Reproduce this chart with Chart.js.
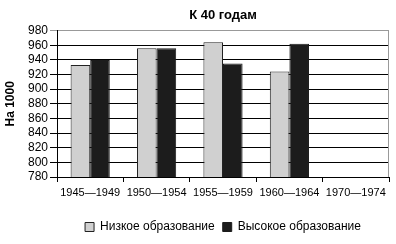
<!DOCTYPE html>
<html lang="ru">
<head>
<meta charset="utf-8" />
<title>К 40 годам</title>
<script src="https://cdn.jsdelivr.net/npm/chart.js"></script>
<style>
  body { margin: 0; background: #fff; }
  #wrap { width: 396px; height: 244px; }
</style>
</head>
<body>
<div id="wrap"><canvas id="c" width="396" height="244"></canvas></div>
<script>
const periods = ['1945—1949', '1950—1954', '1955—1959', '1960—1964', '1970—1974'];
const lowEdu  = [933, 956, 964, 924, null];
const highEdu = [940, 956, 935, 962, null];
const yMin = 780, yMax = 980, yStep = 20;

const font = '"Liberation Sans", Arial, sans-serif';

new Chart(document.getElementById('c'), {
  type: 'bar',
  data: {
    labels: periods,
    datasets: [
      { label: 'Низкое образование', data: lowEdu, backgroundColor: '#d0d0d0', borderColor: '#222', borderWidth: 1 },
      { label: 'Высокое образование', data: highEdu, backgroundColor: '#1c1c1c', borderColor: '#1c1c1c', borderWidth: 1 }
    ]
  },
  options: {
    responsive: false,
    animation: false,
    layout: { padding: { left: 0, right: 7, top: 1, bottom: 1 } },
    datasets: { bar: { categoryPercentage: 0.59, barPercentage: 1 } },
    scales: {
      x: {
        afterFit: s => { s.height = 36; },
        grid: { offset: true, drawOnChartArea: false, drawTicks: true, tickLength: 5, color: '#000' },
        border: { color: '#000' },
        ticks: { autoSkip: false, color: '#000', font: { family: font, size: 11 }, padding: 4, maxRotation: 0 }
      },
      y: {
        min: yMin, max: yMax,
        afterFit: s => { s.width = 57; },
        grid: { color: c => c.tick && c.tick.value === yMax ? '#999' : '#000', tickLength: 7 },
        border: { color: '#000' },
        ticks: { stepSize: yStep, autoSkip: false, color: '#000', font: { family: font, size: 12 }, padding: 2 },
        title: { display: true, text: 'На 1000', color: '#000', font: { family: font, size: 12, weight: 'bold' }, padding: { top: 3, bottom: 0 } }
      }
    },
    plugins: {
      title: { display: true, fullSize: false, text: 'К 40 годам', color: '#000', font: { family: font, size: 13, weight: 'bold' }, padding: { top: 7, bottom: 7 } },
      legend: {
        position: 'bottom', fullSize: false,
        labels: { color: '#000', font: { family: font, size: 12 }, boxWidth: 9, boxHeight: 9, padding: 8 }
      },
      tooltip: { enabled: false }
    }
  },
  plugins: [{
    id: 'frame',
    afterDraw(chart) {
      const a = chart.chartArea, ctx = chart.ctx;
      ctx.save();
      ctx.strokeStyle = '#999';
      ctx.lineWidth = 1;
      ctx.beginPath();
      ctx.moveTo(a.right - 0.5, a.top);
      ctx.lineTo(a.right - 0.5, a.bottom);
      ctx.stroke();
      ctx.restore();
    }
  }]
});
</script>
</body>
</html>
